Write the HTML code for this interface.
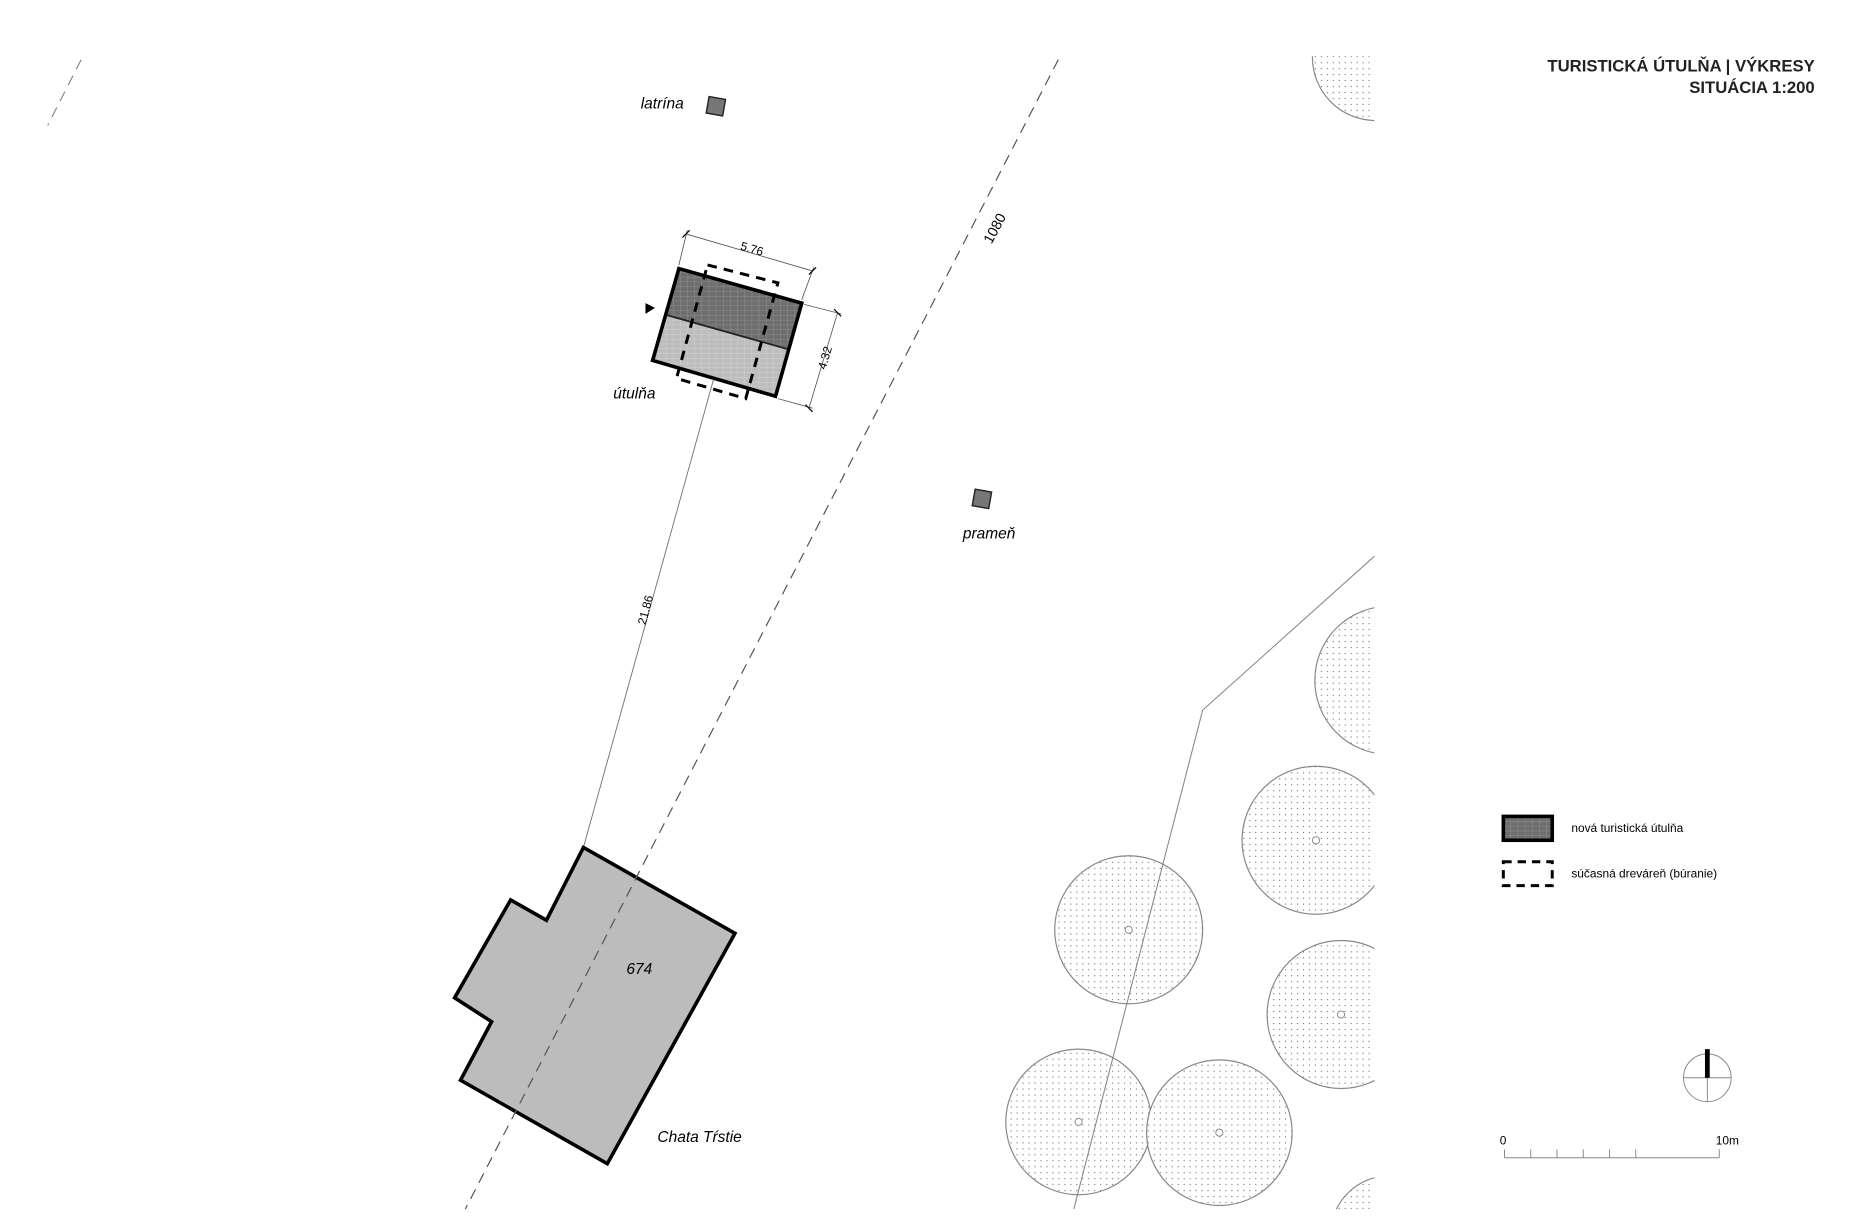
<!DOCTYPE html>
<html><head><meta charset="utf-8"><style>
html,body{margin:0;padding:0;background:#fff;width:1872px;height:1221px;overflow:hidden;}
svg{display:block;}
text{font-family:"Liberation Sans",sans-serif;}
</style></head><body>
<svg width="1872" height="1221" viewBox="0 0 1569 1023" preserveAspectRatio="none" xmlns="http://www.w3.org/2000/svg">
<defs>
<pattern id="dots" width="5" height="5" patternUnits="userSpaceOnUse"><rect width="5" height="5" fill="#fff"/><circle cx="2.5" cy="2.5" r="0.55" fill="#777"/></pattern>
<pattern id="hd" width="6" height="4" patternUnits="userSpaceOnUse"><rect width="6" height="4" fill="#6e6e6e"/><path d="M0 0H6M0 0V4" stroke="#9a9a9a" stroke-width="0.6"/></pattern>
<pattern id="hl" width="6" height="4" patternUnits="userSpaceOnUse"><rect width="6" height="4" fill="#bdbdbd"/><path d="M0 0H6M0 0V4" stroke="#d8d8d8" stroke-width="0.6"/></pattern>
<clipPath id="cl"><rect x="0" y="47" width="1152" height="966"/></clipPath>
</defs>

<line x1="68" y1="50" x2="40" y2="105" stroke="#888" stroke-width="1" stroke-dasharray="9,6"/>
<text x="0" y="0" font-size="12" transform="translate(831,205) rotate(-62)">1080</text>

<text x="537" y="91" font-size="13" font-style="italic">latrína</text>
<rect x="593" y="82" width="14" height="14" fill="#777" stroke="#222" stroke-width="1.2" transform="rotate(10 600 89)"/>

<rect x="816" y="411" width="14" height="14" fill="#777" stroke="#222" stroke-width="1.2" transform="rotate(10 823 418)"/>
<text x="807" y="451" font-size="13" font-style="italic">prameň</text>

<polygon points="569,225 672,254 662,293 559,264" fill="url(#hd)"/>
<polygon points="559,264 662,293 650,332 547,302" fill="url(#hl)"/>
<line x1="559" y1="264" x2="662" y2="293" stroke="#222" stroke-width="1.5"/>
<polygon points="569,225 672,254 650,332 547,302" fill="none" stroke="#000" stroke-width="3"/>
<polygon points="593,222 652,237 625,334 567,317" fill="none" stroke="#000" stroke-width="2.5" stroke-dasharray="8,6"/>
<polygon points="541,254 549,258 541,263" fill="#000"/>
<line x1="575" y1="196" x2="681" y2="227" stroke="#555" stroke-width="0.7"/>
<line x1="569" y1="222" x2="576" y2="193" stroke="#555" stroke-width="0.7"/>
<line x1="672" y1="251" x2="682" y2="224" stroke="#555" stroke-width="0.7"/>
<line x1="572" y1="199" x2="578" y2="193" stroke="#000" stroke-width="1"/>
<line x1="678" y1="230" x2="684" y2="224" stroke="#000" stroke-width="1"/>
<text font-size="10" transform="translate(620,209) rotate(16)">5.76</text>
<line x1="702" y1="262" x2="678" y2="342" stroke="#555" stroke-width="0.7"/>
<line x1="674" y1="255" x2="705" y2="263" stroke="#555" stroke-width="0.7"/>
<line x1="652" y1="334" x2="681" y2="342" stroke="#555" stroke-width="0.7"/>
<line x1="699" y1="259" x2="705" y2="265" stroke="#000" stroke-width="1"/>
<line x1="675" y1="339" x2="681" y2="345" stroke="#000" stroke-width="1"/>
<text font-size="10" transform="translate(692,310) rotate(-74)">4.32</text>
<text x="514" y="334" font-size="13" font-style="italic">útulňa</text>

<line x1="598" y1="318" x2="489" y2="710" stroke="#777" stroke-width="0.8"/>
<text font-size="10" transform="translate(541,524) rotate(-75)">21.86</text>

<polygon points="489,710 616,782 509,975 386,905 412,856 381,836 428,754 458,771" fill="#bcbcbc" stroke="#000" stroke-width="3"/>
<line x1="887" y1="50" x2="390" y2="1013" stroke="#555" stroke-width="1" stroke-dasharray="9,6"/>
<text x="525" y="816" font-size="13" font-style="italic">674</text>
<text x="551" y="957" font-size="13" font-style="italic">Chata Tŕstie</text>

<g clip-path="url(#cl)">
<g stroke="#888" stroke-width="1" fill="url(#dots)">
<circle cx="1153" cy="48" r="53"/>
<circle cx="1164" cy="570" r="62"/>
<circle cx="1103" cy="704" r="62"/>
<circle cx="946" cy="779" r="62"/>
<circle cx="1124" cy="850" r="62"/>
<circle cx="904" cy="940" r="61"/>
<circle cx="1022" cy="949" r="61"/>
<circle cx="1165" cy="1035" r="50"/>
</g>
<g stroke="#888" stroke-width="0.8" fill="#fff">
<circle cx="1103" cy="704" r="3"/><circle cx="946" cy="779" r="3"/><circle cx="1124" cy="850" r="3"/><circle cx="904" cy="940" r="3"/><circle cx="1022" cy="949" r="3"/>
</g>
<polyline points="1152,466 1008,595 900,1013" fill="none" stroke="#888" stroke-width="0.9"/>
</g>

<text x="1521" y="60" font-size="14" font-weight="bold" text-anchor="end" fill="#222">TURISTICKÁ ÚTULŇA | VÝKRESY</text>
<text x="1521" y="78" font-size="14" font-weight="bold" text-anchor="end" fill="#222">SITUÁCIA 1:200</text>

<rect x="1260" y="684" width="41" height="20" fill="url(#hd)" stroke="#000" stroke-width="3"/>
<text x="1317" y="697" font-size="10">nová turistická útulňa</text>
<rect x="1260" y="722" width="41" height="20" fill="none" stroke="#000" stroke-width="2.5" stroke-dasharray="7,5"/>
<text x="1317" y="735" font-size="10">súčasná dreváreň (búranie)</text>

<circle cx="1431" cy="903" r="20" fill="none" stroke="#888" stroke-width="0.8"/>
<line x1="1411" y1="903" x2="1451" y2="903" stroke="#888" stroke-width="0.8"/>
<line x1="1431" y1="903" x2="1431" y2="923" stroke="#888" stroke-width="0.8"/>
<rect x="1429" y="879" width="4" height="24" fill="#000"/>

<text x="1257" y="959" font-size="10">0</text>
<text x="1438" y="959" font-size="10">10m</text>
<path d="M1261 970H1441M1261 963V970M1283 963V970M1305 963V970M1327 963V970M1349 963V970M1371 963V970M1441 963V970" stroke="#888" stroke-width="0.8" fill="none"/>
</svg>
</body></html>
